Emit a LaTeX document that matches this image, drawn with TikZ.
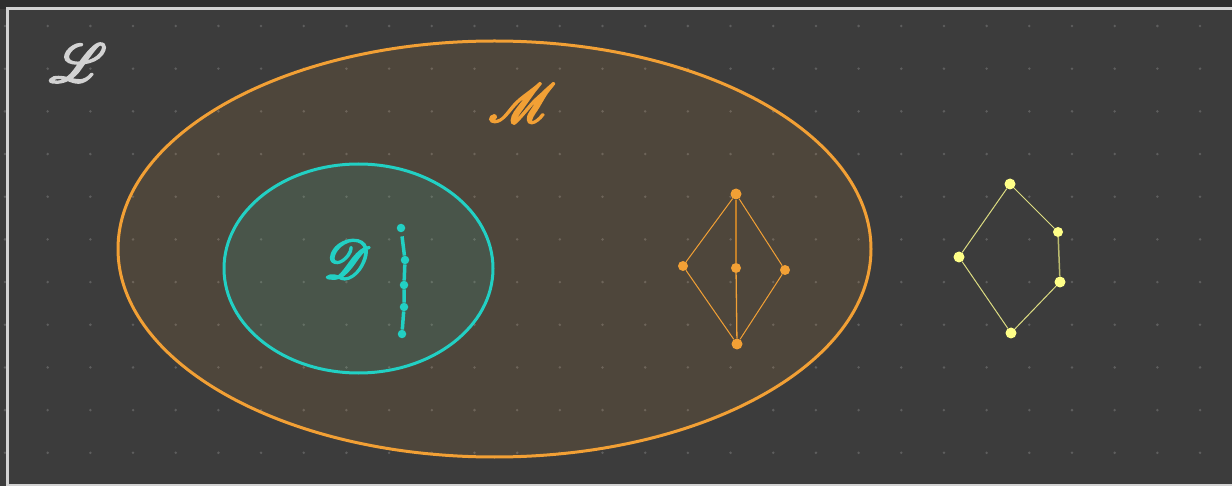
\documentclass[tikz,border=0pt]{standalone}
\usepackage{mathrsfs}

\definecolor{bgdark}{HTML}{2E2E2E}
\definecolor{bggray}{HTML}{3C3C3C}
\definecolor{framegray}{HTML}{D2D2D2}
\definecolor{gridgray}{HTML}{5E5E5E}
\definecolor{latorange}{HTML}{F2A035}
\definecolor{latteal}{HTML}{22D0C4}
\definecolor{latyellow}{HTML}{FFFF88}
\definecolor{edgeyellow}{HTML}{DCDC82}

% thick strokes for the hand written set names
\newcommand{\inkletter}[1]{\special{pdf:code 2 Tr 0.38 w}$\mathscr{#1}$\special{pdf:code 0 Tr}}

\tikzset{
  elem/.style={circle, fill=#1, inner sep=0pt, minimum size=11pt},
  chainelem/.style={circle, fill=latteal, inner sep=0pt, minimum size=8.5pt},
  setlabel/.style={text=#1, scale=5.4},
}

\begin{document}
\begin{tikzpicture}[x=1pt,y=-1pt]
        \useasboundingbox (0,0) rectangle (1232,486);
        \fill[bgdark] (0,0) rectangle (1232,486);
        \fill[bggray] (0,9) rectangle (1232,486);
        % dot grid
        \foreach \i in {0,...,28} {
            \foreach \j in {0,...,10} {
                \fill[gridgray] (5+42.68*\i,26+42.68*\j) circle (1.4);
            }
        }
        \draw[framegray, line width=3pt] (7,9) rectangle (1245,485);
        % the sets
        \draw[latorange, line width=3pt, fill=latorange, fill opacity=0.1] (494.5,249) ellipse [x radius=376.5, y radius=208];
        \draw[latteal, line width=3pt, fill=latteal, fill opacity=0.11] (358.5,268.5) ellipse [x radius=134.5, y radius=104.5];
        \node[setlabel=framegray] (lbl-L) at (78,63) {\inkletter{L}};
        \node[setlabel=latorange] (lbl-M) at (522,103) {\inkletter{M}};
        \node[setlabel=latteal] (lbl-D) at (347,259) {\inkletter{D}};
        % chain
        \node[chainelem] (d1) at (401,228) {};
        \node[chainelem] (d2) at (405,260) {};
        \node[chainelem] (d3) at (404,285) {};
        \node[chainelem] (d4) at (404,307) {};
        \node[chainelem] (d5) at (402,334) {};
        \draw[latteal, line width=3.5pt, shorten <=4pt] (d1) -- (d2);
        \draw[latteal, line width=3.5pt] (d2) -- (d3) -- (d4) -- (d5);
        % M3
        \node[elem=latorange] (m-top) at (736,194) {};
        \node[elem=latorange, minimum size=10pt] (m-left) at (683,266) {};
        \node[elem=latorange, minimum size=10pt] (m-mid) at (736,268) {};
        \node[elem=latorange, minimum size=10pt] (m-right) at (785,270) {};
        \node[elem=latorange] (m-bot) at (737,344) {};
        \draw[latorange, line width=1pt] (m-top) -- (m-left) -- (m-bot) -- (m-right) -- (m-top);
        \draw[latorange!80!black, line width=2pt] (m-top) -- (m-mid);
        \draw[latorange, line width=1.3pt] (m-mid) -- (m-bot);
        % N5
        \node[elem=latyellow] (n-top) at (1010,184) {};
        \node[elem=latyellow] (n-left) at (959,257) {};
        \node[elem=latyellow, minimum size=10pt] (n-up) at (1058,232) {};
        \node[elem=latyellow] (n-low) at (1060,282) {};
        \node[elem=latyellow] (n-bot) at (1011,333) {};
        \draw[edgeyellow, line width=1pt] (n-top) -- (n-left) -- (n-bot) -- (n-low);
        \draw[edgeyellow, line width=1pt] (n-top) -- (n-up);
        \draw[edgeyellow!85!black, line width=1.5pt] (n-up) -- (n-low);
\end{tikzpicture}
\end{document}
